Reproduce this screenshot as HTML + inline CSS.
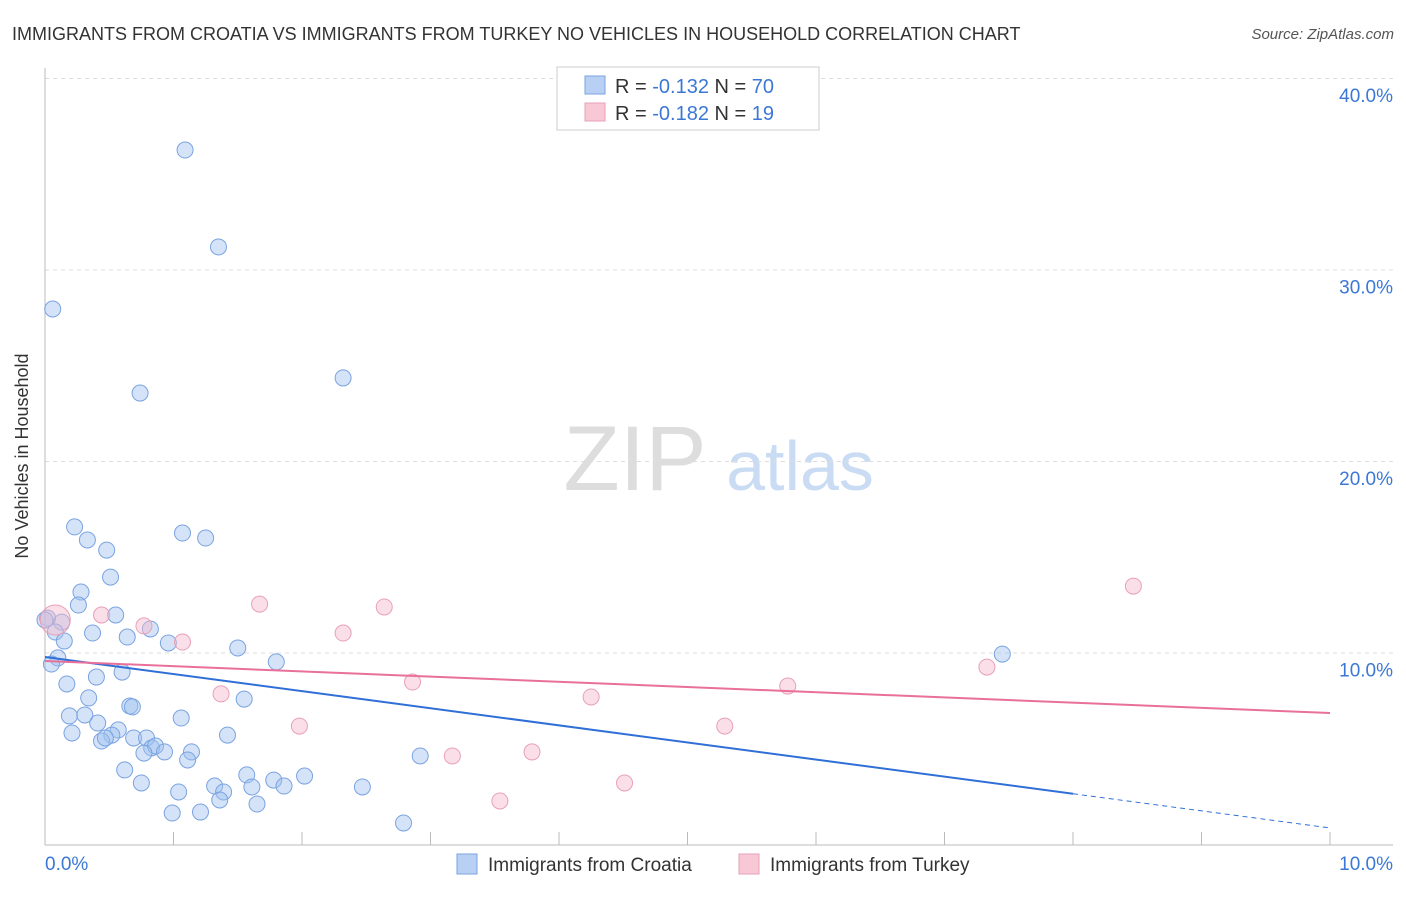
<!DOCTYPE html>
<html><head><meta charset="utf-8">
<style>
body{margin:0;background:#fff;font-family:"Liberation Sans",sans-serif;}
svg text{font-family:"Liberation Sans",sans-serif;}
</style></head>
<body>
<svg width="1406" height="892" viewBox="0 0 1406 892">
<text x="12" y="40" font-size="18" fill="#333">IMMIGRANTS FROM CROATIA VS IMMIGRANTS FROM TURKEY NO VEHICLES IN HOUSEHOLD CORRELATION CHART</text>
<text x="1394" y="39" font-size="15" fill="#555" text-anchor="end" font-style="italic">Source: ZipAtlas.com</text>
<text x="28" y="456" font-size="18" fill="#333" text-anchor="middle" transform="rotate(-90 28 456)">No Vehicles in Household</text>
<g>
<text x="635" y="490" font-size="92" fill="#ddd" text-anchor="middle" font-family="Liberation Serif">ZIP</text>
<text x="800" y="490" font-size="70" fill="#c9dcf3" text-anchor="middle">atlas</text>
</g>
<g id="grid"></g>
<g id="axes"></g>
<g id="marks"></g>
<g>
<rect x="557" y="67" width="262" height="63" fill="#fff" stroke="#ccc"/>
<rect x="585" y="76" width="20" height="18" fill="#b9d0f5" stroke="#7aa3e0"/>
<rect x="585" y="103" width="20" height="18" fill="#f9c8d6" stroke="#e8a0b8"/>
<text x="615" y="93" font-size="20" fill="#333">R = <tspan fill="#3b78d6">-0.132</tspan>   N = <tspan fill="#3b78d6">70</tspan></text>
<text x="615" y="120" font-size="20" fill="#333">R = <tspan fill="#3b78d6">-0.182</tspan>   N =  <tspan fill="#3b78d6">19</tspan></text>
</g>
<g>
<rect x="457" y="854" width="20" height="20" fill="#b9d0f5" stroke="#7aa3e0"/>
<text x="488" y="871" font-size="19" fill="#333">Immigrants from Croatia</text>
<rect x="739" y="854" width="20" height="20" fill="#f9c8d6" stroke="#e8a0b8"/>
<text x="770" y="871" font-size="19" fill="#333">Immigrants from Turkey</text>
</g>
</svg>
<script>
const croatiaX=[1.09,1.35,0.06,2.32,0.74,0.23,1.07,1.25,0.33,0.48,0.51,0.28,0.26,0.55,0.02,0.13,0.08,0.37,0.64,0.82,0.96,0.15,1.50,1.80,0.10,0.05,0.60,0.40,0.17,0.34,1.55,0.66,0.68,0.19,1.06,0.41,0.31,0.57,0.52,1.42,0.21,0.69,0.79,0.44,0.47,0.83,0.86,0.93,1.14,0.77,1.11,2.92,0.62,1.57,2.02,1.78,1.32,1.61,2.47,0.75,1.86,1.39,1.04,1.36,1.65,1.21,0.99,2.79,7.45,0.00];
const croatiaY=[36.29,31.23,27.99,24.39,23.60,16.61,16.29,16.03,15.93,15.40,13.99,13.21,12.53,12.01,11.85,11.64,11.12,11.07,10.86,11.28,10.55,10.65,10.29,9.56,9.77,9.45,9.03,8.77,8.41,7.68,7.62,7.26,7.21,6.74,6.63,6.37,6.79,6.01,5.74,5.74,5.85,5.59,5.59,5.43,5.59,5.07,5.17,4.86,4.86,4.80,4.44,4.65,3.92,3.66,3.60,3.39,3.08,3.03,3.03,3.24,3.08,2.77,2.77,2.35,2.14,1.72,1.67,1.15,9.97,11.75];
const turkeyX=[0.08,0.44,0.77,1.07,1.67,2.64,2.32,1.37,1.98,2.86,3.17,3.79,3.54,4.25,4.51,5.29,5.78,7.33,8.47];
const turkeyY=[11.75,12.01,11.44,10.60,12.58,12.43,11.07,7.89,6.21,8.51,4.65,4.86,2.30,7.73,3.24,6.21,8.30,9.29,13.52];
const yTicks=[10,20,30,40];
const yTickLabels=["10.0%","20.0%","30.0%","40.0%"];
const xTicks=[0,1,2,3,4,5,6,7,8,9,10];
const croatiaTrend=[9.82,0.89];
const turkeyTrend=[9.61,6.89];
const croatiaSolidEnd=8.0;

const NS="http://www.w3.org/2000/svg";
const X=v=>45+v*128.5;
const Y=v=>845-v*19.15;
function mk(tag,attrs,parent){const e=document.createElementNS(NS,tag);for(const k in attrs)e.setAttribute(k,attrs[k]);parent.appendChild(e);return e;}
const grid=document.getElementById('grid'),axes=document.getElementById('axes'),marks=document.getElementById('marks');
yTicks.forEach((t,i)=>{
  const l=mk('line',{x1:45,x2:1393,y1:Y(t)-0.5,y2:Y(t)-0.5,stroke:'#ddd','stroke-dasharray':'4,4'},grid);
  
  
  const tx=mk('text',{x:1393,y:Y(t)+23,'font-size':19,fill:'#3b78d6','text-anchor':'end'},axes);
  tx.textContent=yTickLabels[i];
  
  
});
const ax=mk('line',{x1:45,x2:45,y1:68,y2:845,stroke:'#bbb'},axes);


const bx=mk('line',{x1:45,x2:1393,y1:845,y2:845,stroke:'#bbb'},axes);


xTicks.forEach(t=>{
  const l=mk('line',{x1:X(t),x2:X(t),y1:832,y2:845,stroke:'#bbb'},axes);
  
  
});
const xl0=mk('text',{x:45,y:870,'font-size':19,fill:'#3b78d6'},axes);xl0.textContent="0.0%";


const xl1=mk('text',{x:1393,y:870,'font-size':19,fill:'#3b78d6','text-anchor':'end'},axes);xl1.textContent="10.0%";



croatiaX.forEach((v,i)=>{
  const c=mk('circle',{cx:X(v),cy:Y(croatiaY[i]),r:8,fill:'rgba(160,192,240,0.45)',stroke:'#7aa3e0','stroke-width':1},marks);
  
  
});
turkeyX.forEach((v,i)=>{
  const c=mk('circle',{cx:X(v),cy:Y(turkeyY[i]),r:i===0?15:8,fill:'rgba(246,184,204,0.45)',stroke:'#e8a0b8','stroke-width':1},marks);
  
  
});
const cy=x=>croatiaTrend[0]+(croatiaTrend[1]-croatiaTrend[0])*x/10;
const t1=mk('line',{x1:X(0),y1:Y(cy(0)),x2:X(croatiaSolidEnd),y2:Y(cy(croatiaSolidEnd)),stroke:'#2f6fd6','stroke-width':2},marks);


const t2=mk('line',{x1:X(croatiaSolidEnd),y1:Y(cy(croatiaSolidEnd)),x2:X(10),y2:Y(cy(10)),stroke:'#2f6fd6','stroke-width':1,'stroke-dasharray':'5,4'},marks);


const t3=mk('line',{x1:X(0),y1:Y(turkeyTrend[0]),x2:X(10),y2:Y(turkeyTrend[1]),stroke:'#e8709a','stroke-width':2},marks);


</script>
</body></html>
